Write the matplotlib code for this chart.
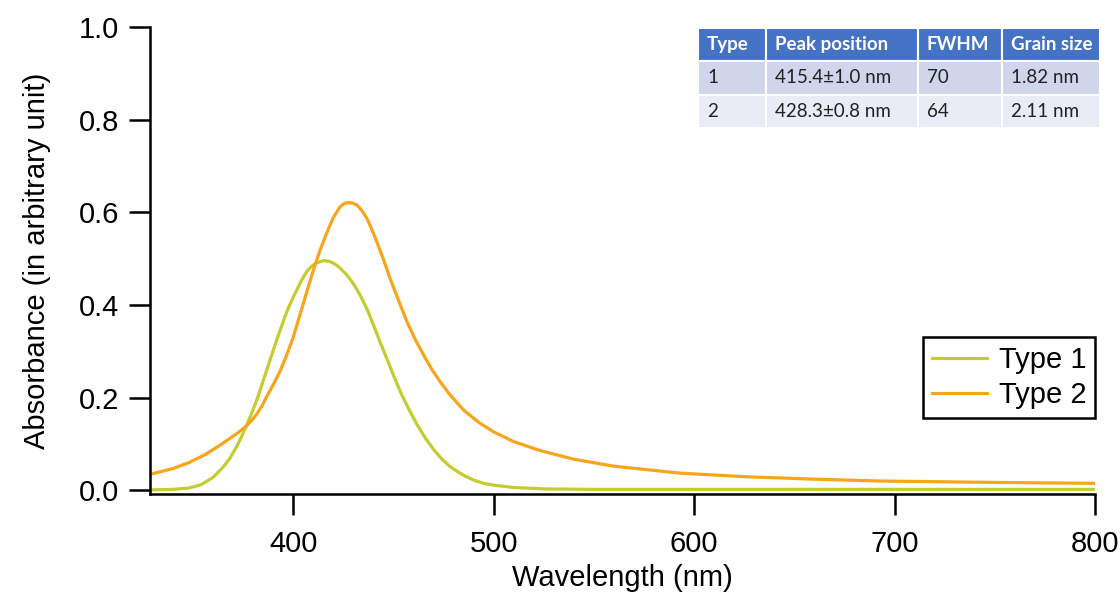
import matplotlib
matplotlib.use("Agg")
import matplotlib.pyplot as plt
from matplotlib.patches import Rectangle

plt.rcParams.update({"font.family": ["Liberation Sans", "DejaVu Sans"], "font.size": 21})

# absorbance curves (wavelength nm, absorbance)
wl_type1 = [330, 340, 348, 354, 360, 365, 368.5, 371.7, 374.2, 376.7, 379.2, 381.7,
            384.2, 386.7, 389.2, 391.7, 394.2, 396.7, 399.2, 401.7, 404.2, 406.7,
            409.2, 411.7, 415.3, 418, 420.5, 423, 426.5, 430, 433.5, 436.7, 440,
            443.3, 446.7, 450, 454.2, 458, 462, 466, 470, 474, 478, 482, 486, 490,
            495, 500, 510, 525, 550, 800]
abs_type1 = [0.001, 0.002, 0.005, 0.012, 0.028, 0.050, 0.070, 0.094, 0.116, 0.140,
             0.166, 0.194, 0.226, 0.259, 0.292, 0.324, 0.355, 0.385, 0.410, 0.432,
             0.454, 0.472, 0.484, 0.491, 0.496, 0.494, 0.489, 0.481, 0.466, 0.446,
             0.420, 0.392, 0.357, 0.320, 0.284, 0.248, 0.205, 0.172, 0.140, 0.112,
             0.088, 0.068, 0.052, 0.040, 0.030, 0.022, 0.015, 0.011, 0.006, 0.003,
             0.002, 0.002]

wl_type2 = [330, 340, 348, 356, 363.3, 368, 372, 376.4, 379.5, 382, 384.5, 386.7,
            390, 393.3, 396.7, 400, 402.5, 405, 407.5, 410, 413.3, 415, 417.5, 420,
            423.3, 425.5, 427.5, 429.5, 431.7, 434, 436.7, 439, 441.7, 445, 448.3,
            452.5, 456.7, 460.8, 465, 469, 473.3, 478, 485, 493, 500, 510, 523, 540,
            560, 593, 627, 660, 693, 750, 800]
abs_type2 = [0.036, 0.047, 0.060, 0.077, 0.097, 0.111, 0.123, 0.138, 0.152, 0.166,
             0.183, 0.202, 0.228, 0.256, 0.292, 0.331, 0.367, 0.403, 0.440, 0.475,
             0.518, 0.537, 0.564, 0.589, 0.612, 0.619, 0.621, 0.620, 0.616, 0.605,
             0.587, 0.565, 0.536, 0.498, 0.457, 0.410, 0.364, 0.326, 0.292, 0.262,
             0.234, 0.207, 0.173, 0.145, 0.126, 0.105, 0.086, 0.067, 0.052, 0.037,
             0.029, 0.024, 0.020, 0.017, 0.015]

series_labels = ["Type 1", "Type 2"]
series_colors = ["#C4CC30", "#F8A51C"]

# inset table
table_header = ["Type", "Peak position", "FWHM", "Grain size"]
table_rows = [["1", "415.4\u00b11.0 nm", "70", "1.82 nm"],
              ["2", "428.3\u00b10.8 nm", "64", "2.11 nm"]]
col_px = [68, 152, 84, 98]          # column widths in pixels
row_colors = ["#4472C4", "#CFD5EA", "#E9EBF5"]

W, H = 1120, 597
fig = plt.figure(figsize=(W / 100, H / 100), dpi=100)
ax = fig.add_axes([150 / W, 1 - 494 / H, 945 / W, 467 / H])

ax.plot(wl_type1, abs_type1, color=series_colors[0], lw=2.3, label=series_labels[0],
        solid_joinstyle="round")
ax.plot(wl_type2, abs_type2, color=series_colors[1], lw=2.3, label=series_labels[1],
        solid_joinstyle="round")

ax.set_xlim(328.5, 800)
ax.set_ylim(-0.008, 1.0)
ax.set_xticks([400, 500, 600, 700, 800])
ax.set_yticks([0.0, 0.2, 0.4, 0.6, 0.8, 1.0])
ax.set_yticklabels(["0.0", "0.2", "0.4", "0.6", "0.8", "1.0"])
for s in ("top", "right"):
    ax.spines[s].set_visible(False)
for s in ("left", "bottom"):
    ax.spines[s].set_linewidth(1.8)
ax.tick_params(axis="both", direction="out", length=15, width=1.8, labelsize=21)
ax.tick_params(axis="x", pad=11)
ax.tick_params(axis="y", pad=7)
ax.set_xlabel("Wavelength (nm)", fontsize=21, labelpad=4)
ax.set_ylabel("Absorbance (in arbitrary unit)", fontsize=21, labelpad=20)

leg = ax.legend(loc="lower right", bbox_to_anchor=(1.0, 0.163), borderaxespad=0,
                fancybox=False, edgecolor="black", framealpha=1, fontsize=21,
                handlelength=1.9, handletextpad=0.4, labelspacing=0.25, borderpad=0.3)
leg.get_frame().set_linewidth(1.8)

# table drawn in figure pixel coordinates
tx0, ty0, row_h = 698, 28, 33.3
all_rows = [table_header] + table_rows
for r, row in enumerate(all_rows):
    x = tx0
    y = ty0 + r * row_h
    for c, txt in enumerate(row):
        fig.patches.append(Rectangle((x / W, 1 - (y + row_h) / H), col_px[c] / W, row_h / H,
                                     transform=fig.transFigure, facecolor=row_colors[r],
                                     edgecolor="white", linewidth=1.5))
        fig.text((x + 9) / W, 1 - (y + row_h / 2) / H, txt, ha="left", va="center",
                 family=["Lato", "DejaVu Sans"], fontsize=13.5,
                 color="white" if r == 0 else "#222222",
                 fontweight="bold" if r == 0 else "normal")
        x += col_px[c]

fig.savefig("out.png", dpi=100)
